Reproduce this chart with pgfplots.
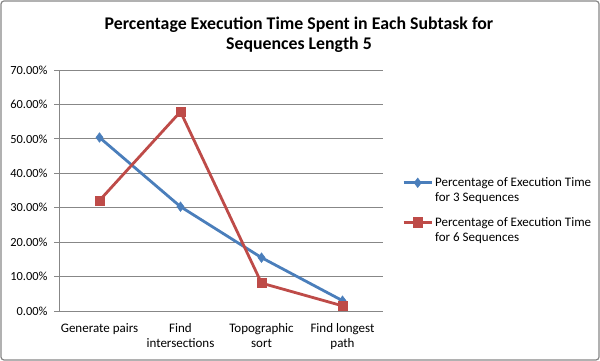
\documentclass[border=0pt]{standalone}
\usepackage{pgfplots}
\pgfplotsset{compat=1.18}
\usepackage{fontspec}
\setmainfont{Carlito}
\definecolor{sblue}{HTML}{4A7EBB}
\definecolor{sred}{HTML}{BE4B48}
\definecolor{gridc}{HTML}{878787}
\begin{document}
\begin{tikzpicture}[x=1pt,y=1pt]
\useasboundingbox (0,0) rectangle (600,361);
\draw[gridc, line width=1.2pt, rounded corners=3pt] (1,1) rectangle (599,360);
\node[font=\fontsize{17.8}{20.5}\selectfont\bfseries, align=center] at (299,326) {Percentage Execution Time Spent in Each Subtask for\\Sequences Length 5};
\begin{axis}[
  at={(59pt,50pt)}, anchor=south west,
  scale only axis, width=324pt, height=241pt,
  xmin=-0.5, xmax=3.5, ymin=0, ymax=0.7,
  axis x line*=bottom, axis y line*=left,
  axis line style={gridc, line width=0.8pt, -},
  ytick={0,0.1,0.2,0.3,0.4,0.5,0.6,0.7},
  yticklabels={0.00\%,10.00\%,20.00\%,30.00\%,40.00\%,50.00\%,60.00\%,70.00\%},
  ymajorgrids, grid style={gridc, line width=0.8pt},
  major tick style={gridc, line width=0.8pt},
  tick align=outside, major tick length=5pt,
  xtick={0,1,2,3},
  xticklabels={Generate pairs,Find\\intersections,Topographic\\sort,Find longest\\path},
  x tick style={draw=none},
  extra x ticks={-0.5,0.5,1.5,2.5,3.5},
  extra x tick labels={},
  extra x tick style={grid=none, major tick length=5pt, tick style={gridc, line width=0.8pt}},
  xticklabel style={font=\fontsize{13}{15}\selectfont, align=center, yshift=-4pt},
  yticklabel style={font=\fontsize{12.4}{15}\selectfont, xshift=-3pt},
  /pgf/number format/assume math mode=true,
  legend style={at={(1.059,0.419)}, anchor=west, draw=none, fill=none, inner sep=0pt,
    font=\fontsize{13}{15}\selectfont, cells={align=left, inner xsep=0pt}, row sep=10pt},
  legend image code/.code={%
    \draw[mark repeat=2,mark phase=2] plot coordinates {(0pt,7.5pt) (14pt,7.5pt) (28pt,7.5pt)};},
  legend cell align=left,
  clip=false,
]
\addplot[sblue, line width=2.8pt, mark=diamond*, mark size=4.8pt, mark options={solid, line width=0.5pt}]
  coordinates {(0,0.504) (1,0.303) (2,0.155) (3,0.030)};
\addlegendentry{Percentage of Execution Time\\for 3 Sequences}
\addplot[sred, line width=2.8pt, mark=square*, mark size=4.6pt, mark options={solid, line width=0.5pt}]
  coordinates {(0,0.321) (1,0.579) (2,0.081) (3,0.015)};
\addlegendentry{Percentage of Execution Time\\for 6 Sequences}
\end{axis}
\end{tikzpicture}
\end{document}
